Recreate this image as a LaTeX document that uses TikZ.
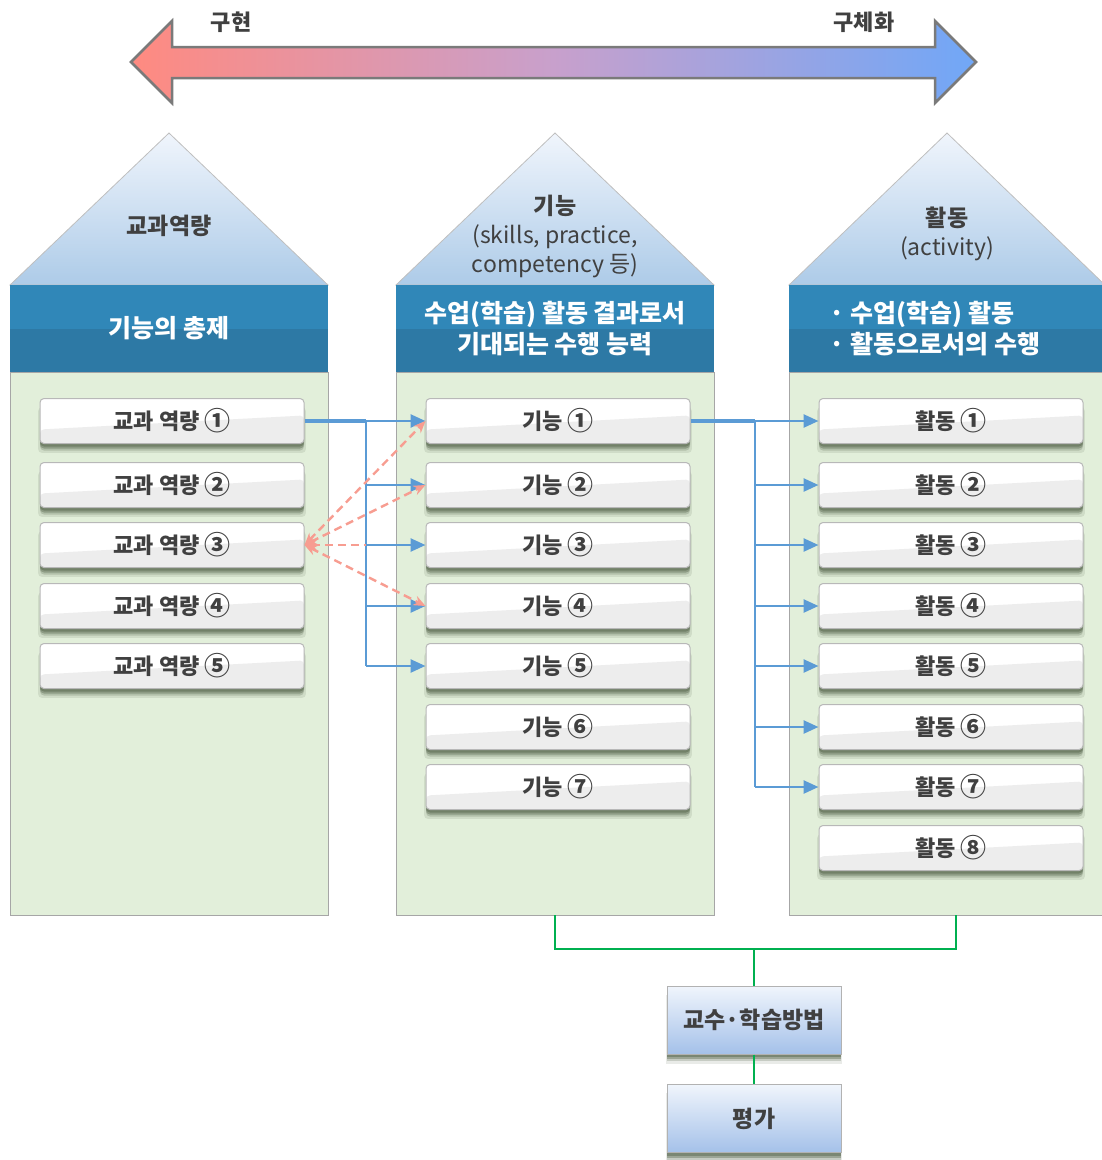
\documentclass[tikz,border=0pt]{standalone}
\usepackage{fontspec}
\setmainfont{Noto Sans CJK KR}
\usetikzlibrary{shadows,arrows.meta}
\definecolor{txt}{HTML}{404040}
\definecolor{bodygreen}{HTML}{E2EFDA}
\definecolor{hdrlight}{HTML}{3087B8}
\definecolor{hdrdark}{HTML}{2D79A5}
\definecolor{rooftop}{HTML}{F0F5FC}
\definecolor{roofbot}{HTML}{ADCBE8}
\definecolor{bluln}{HTML}{5B9BD5}
\definecolor{salmon}{HTML}{F79D91}
\definecolor{grn}{HTML}{00B050}
\definecolor{arrL}{HTML}{FF8A80}
\definecolor{arrM}{HTML}{C8A0CC}
\definecolor{arrR}{HTML}{70A7F7}
\definecolor{shad}{HTML}{4A5A40}
\newcommand\cnum[1]{\raisebox{-0.08em}{\scalebox{1.18}{#1}}}
\tikzset{
  boxshadow/.style={
    drop shadow={shadow xshift=0pt,shadow yshift=-9pt,opacity=0.12,fill=shad,shadow scale=1.015},
    drop shadow={shadow xshift=0pt,shadow yshift=-7pt,opacity=0.22,fill=shad},
    drop shadow={shadow xshift=0pt,shadow yshift=-5pt,opacity=0.35,fill=shad},
    drop shadow={shadow xshift=0pt,shadow yshift=-3pt,opacity=0.40,fill=shad}},
  itembox/.style={draw=black!28, line width=1pt, rounded corners=4pt, minimum width=264pt,
    minimum height=45pt, inner sep=0pt, fill=white, text=txt,
    font=\bfseries\fontsize{22}{24}\selectfont, boxshadow,
    path picture={\fill[black!7] (path picture bounding box.south west)
      -- ([yshift=14pt]path picture bounding box.south west)
      -- ([yshift=28pt]path picture bounding box.south east)
      -- (path picture bounding box.south east) -- cycle;}},
  body/.style={draw=black!35, line width=0.8pt, fill=bodygreen, inner sep=0pt,
    minimum width=318pt, minimum height=543pt},
  hdr/.style={fill=hdrlight, inner sep=0pt, minimum width=318pt, minimum height=87pt,
    text=white, font=\bfseries\fontsize{25}{31}\selectfont, align=center,
    path picture={\fill[hdrdark] (path picture bounding box.west) rectangle (path picture bounding box.south east);}},
  roof/.style={top color=rooftop, bottom color=roofbot, draw=black!25, line width=0.8pt},
  rooftext/.style={text=txt, font=\fontsize{23}{29}\selectfont, align=center},
  bottombox/.style={draw=black!30, line width=1pt, top color=rooftop, bottom color=roofbot!95!blue,
    minimum width=174pt, minimum height=68pt, inner sep=0pt, text=txt,
    font=\bfseries\fontsize{23}{26}\selectfont, boxshadow},
  conn/.style={draw=bluln, line width=2.6pt},
  conntip/.style={conn, -{Triangle[length=15pt,width=13pt]}},
  dashln/.style={draw=salmon, line width=2.4pt, dash pattern=on 8pt off 5pt},
  grline/.style={draw=grn, line width=2.5pt},
  toplabel/.style={text=txt, font=\bfseries\fontsize{22}{24}\selectfont}
}
\begin{document}
\begin{tikzpicture}[x=1pt,y=1pt]
\useasboundingbox (0,0) rectangle (1102,-1160);

% big double arrow
\path[left color=arrL, right color=arrR, middle color=arrM, draw=black!52, line width=2.5pt, line join=miter]
  (131,-62) -- (172,-21) -- (172,-47) -- (935,-47) -- (935,-21) -- (976,-62)
  -- (935,-103) -- (935,-78) -- (172,-78) -- (172,-103) -- cycle;
\node[toplabel] (lblL) at (231,-22) {구현};
\node[toplabel] (lblR) at (864,-22) {구체화};

% bodies
\node[body] (b1) at (169,-643.5) {};
\node[body] (b2) at (555,-643.5) {};
\node[body, minimum width=316pt] (b3) at (947,-643.5) {};

% roofs
\path[roof] (10,-285) -- (169,-133) -- (328,-285) -- cycle;
\path[roof] (396,-285) -- (555,-133) -- (714,-285) -- cycle;
\path[roof] (789,-285) -- (947,-133) -- (1105,-285) -- cycle;
\node[rooftext] (r1) at (169,-226) {\bfseries 교과역량};
\node[rooftext] (r2) at (555,-236) {\bfseries 기능\\(skills, practice,\\competency 등)};
\node[rooftext] (r3) at (947,-233.5) {\bfseries 활동\\(activity)};

% headers
\node[hdr] (h1) at (169,-328.5) {기능의 총제};
\node[hdr] (h2) at (555,-328.5) {수업(학습) 활동 결과로서\\기대되는 수행 능력};
\node[hdr, minimum width=316pt] (h3) at (947,-328.5) {};
\node[text=white, font=\bfseries\fontsize{25}{31}\selectfont, align=left, anchor=west] (h3t) at (826,-328.5)
  {· 수업(학습) 활동\\· 활동으로서의 수행};

% item boxes
\foreach \y/\c [count=\i] in {421/①,485/②,545/③,606/④,666/⑤}
  \node[itembox] (k\i) at (172,-\y) {교과 역량 \cnum{\c}};
\foreach \y/\c [count=\i] in {421/①,485/②,545/③,606/④,666/⑤,727/⑥,787/⑦}
  \node[itembox] (g\i) at (558,-\y) {기능 \cnum{\c}};
\foreach \y/\c [count=\i] in {421/①,485/②,545/③,606/④,666/⑤,727/⑥,787/⑦,848/⑧}
  \node[itembox] (a\i) at (951,-\y) {활동 \cnum{\c}};

% blue connectors col1 -> col2
\coordinate (j1) at (366,-421);
\draw[conn, line width=3.2pt] (k1.east) -- (j1);
\draw[conn] (j1) -- (j1 |- g5.west);
\foreach \i in {1,...,5} \draw[conntip] (j1 |- g\i.west) -- (g\i.west);

% blue connectors col2 -> col3
\coordinate (j2) at (755,-421);
\draw[conn, line width=3.2pt] (g1.east) -- (j2);
\draw[conn] (j2) -- (j2 |- a7.west);
\foreach \i in {1,...,7} \draw[conntip] (j2 |- a\i.west) -- (a\i.west);

% dashed salmon
\draw[dashln, {Stealth[length=12pt,width=10pt]}-{Stealth[length=12pt,width=10pt]}] (k3.east) -- (g1.west);
\draw[dashln, {Stealth[length=12pt,width=10pt]}-{Stealth[length=12pt,width=10pt]}] (k3.east) -- (g2.west);
\draw[dashln, {Stealth[length=12pt,width=10pt]}-{Stealth[length=12pt,width=10pt]}] (k3.east) -- (g4.west);
\draw[dashln, {Stealth[length=12pt,width=10pt]}-] (k3.east) -- (j1 |- k3.east);

% bottom boxes
\node[bottombox] (m1) at (754,-1020) {교수·학습방법};
\node[bottombox] (m2) at (754,-1118.5) {평가};
\coordinate (gj) at (754,-949);
\draw[grline] (b2.south) |- (gj) -| ([xshift=9pt]b3.south);
\draw[grline] (gj) -- (m1.north);
\draw[grline] (m1.south) -- (m2.north);
\end{tikzpicture}
\end{document}
